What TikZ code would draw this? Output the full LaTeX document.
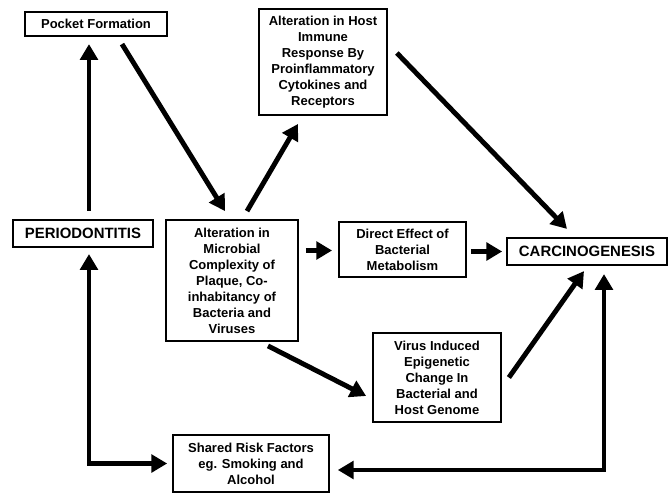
\documentclass[tikz,border=0pt]{standalone}
\usepackage{fontspec}
\setmainfont{Liberation Sans}
\usetikzlibrary{calc,arrows.meta}
\tikzset{
  box/.style={draw,line width=1.3pt,align=center,inner sep=0pt,
    font=\bfseries\fontsize{7.4}{9.1}\selectfont},
  bigbox/.style={box,font=\bfseries\fontsize{8.5}{10}\selectfont},
  link/.style={line width=2.8pt,-{Triangle[length=9pt,width=10pt]}},
  dlink/.style={line width=2.8pt,{Triangle[length=9pt,width=10pt]}-{Triangle[length=9pt,width=10pt]}}
}
% name, x, y, width, height, text (all in px)
\newcommand\flowbox[7]{%
  \node[#1,minimum width=#5*0.5669pt,minimum height=#6*0.5669pt] (#2) at (#3,#4) {#7}
}

\begin{document}
\begin{tikzpicture}[x=0.02cm,y=-0.02cm]
        \useasboundingbox (0,0) rectangle (670,494);
        % The boxes
        \flowbox{box}{pocket}{96}{24}{142}{24}{Pocket Formation};
        \flowbox{box}{host}{323}{62}{128}{106}{Alteration in Host\\Immune\\Response By\\Proinflammatory\\Cytokines and\\Receptors};
        \flowbox{bigbox}{perio}{83}{233.5}{140}{27}{PERIODONTITIS};
        \flowbox{box}{micro}{232}{280.5}{132}{121}{Alteration in\\Microbial\\Complexity of\\Plaque, Co-\\inhabitancy of\\Bacteria and\\Viruses};
        \flowbox{box}{direct}{402.5}{249.5}{127}{55}{Direct Effect of\\Bacterial\\Metabolism};
        \flowbox{bigbox}{carcino}{587}{251.5}{160}{27}{CARCINOGENESIS};
        \flowbox{box}{virus}{437}{377.5}{128}{89}{Virus Induced\\Epigenetic\\Change In\\Bacterial and\\Host Genome};
        \flowbox{box}{shared}{251}{463.5}{156}{57}{Shared Risk Factors\\eg. Smoking and\\Alcohol};

        % The arrows
        \draw[link] ($(perio.north)+(6,-8)$) -- ($(pocket.south)+(-7,7)$);
        \draw[link] ($(pocket.south)+(26,7)$) -- ($(micro.north)+(-7,-8)$);
        \draw[link] ($(micro.north)+(15,-8)$) -- ($(host.south)+(-25,8)$);
        \draw[link] ($(host.east)+(9,-9)$) -- ($(carcino.north)+(-20,-8)$);
        \draw[link] ($(micro.east |- direct.west)+(7,1)$) -- ($(direct.west)+(-6,1)$);
        \draw[link] ($(direct.east)+(4,2)$) -- ($(carcino.west)+(-4,0)$);
        \draw[link] ($(micro.south)+(36,4)$) -- ($(virus.west)+(-6,18.5)$);
        \draw[link] ($(virus.east)+(7,0)$) -- ($(carcino.south)+(-3,5)$);
        % Shared risk factors
        \draw[dlink] ($(shared.east)+(8,6.5)$) -| ($(carcino.south)+(17,8)$);
        \draw[dlink] ($(perio.south)+(6,6)$) |- ($(shared.west)+(-5,0)$);
    \end{tikzpicture}
\end{document}
